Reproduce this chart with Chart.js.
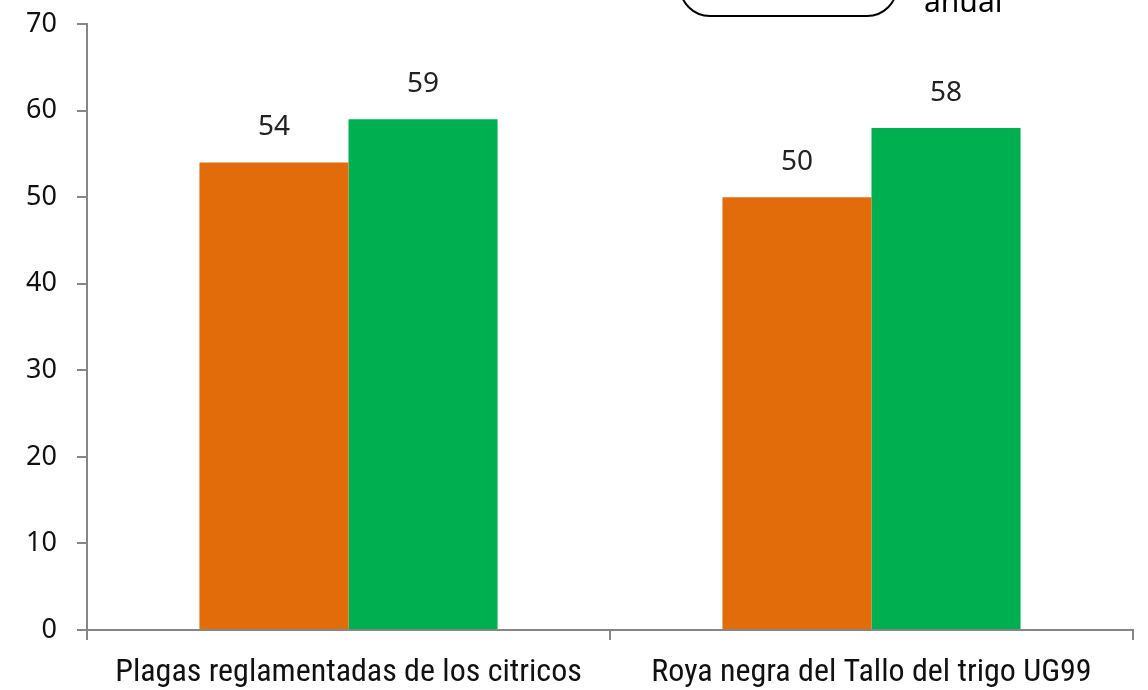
<!DOCTYPE html>
<html><head><meta charset="utf-8">
<script src="https://cdn.jsdelivr.net/npm/chart.js@4"></script>
<style>html,body{margin:0;padding:0;background:#fff}#w{width:1148px;height:690px}</style>
</head><body><div id="w"><canvas id="c" width="1148" height="690"></canvas></div>
<script>
const categories = ["Plagas reglamentadas de los citricos", "Roya negra del Tallo del trigo UG99"];
const seriesA = [54, 50];
const seriesB = [59, 58];
const yTicks = [0, 10, 20, 30, 40, 50, 60, 70];
const noteText = "anual";

const labelsPlugin = {
  id: 'vals',
  afterDatasetsDraw(chart) {
    const ctx = chart.ctx;
    ctx.save();
    ctx.font = '28px "Noto Sans", "Open Sans", sans-serif';
    ctx.fillStyle = '#222';
    ctx.textAlign = 'center';
    ctx.textBaseline = 'middle';
    chart.data.datasets.forEach((ds, i) => {
      chart.getDatasetMeta(i).data.forEach((bar, j) => {
        ctx.fillText(String(ds.data[j]), bar.x, bar.y - 35);
      });
    });
    ctx.restore();
  },
  afterDraw(chart) {
    const ctx = chart.ctx;
    ctx.save();
    ctx.strokeStyle = '#000';
    ctx.lineWidth = 2;
    const x0 = 680, x1 = 897, yb = 16, r = 30;
    ctx.beginPath();
    ctx.moveTo(x0, yb - 40);
    ctx.lineTo(x0, yb - r);
    ctx.arcTo(x0, yb, x0 + r, yb, r);
    ctx.lineTo(x1 - r, yb);
    ctx.arcTo(x1, yb, x1, yb - r, r);
    ctx.lineTo(x1, yb - 40);
    ctx.stroke();
    ctx.fillStyle = '#000';
    ctx.font = '30px "Noto Sans", "Open Sans", sans-serif';
    ctx.textAlign = 'left';
    ctx.textBaseline = 'alphabetic';
    ctx.fillText(noteText, 924, 12);
    ctx.restore();
  }
};

new Chart(document.getElementById('c'), {
  type: 'bar',
  data: {
    labels: categories,
    datasets: [
      { data: seriesA, backgroundColor: '#E36C0A', categoryPercentage: 0.57, barPercentage: 1.0 },
      { data: seriesB, backgroundColor: '#00B050', categoryPercentage: 0.57, barPercentage: 1.0 }
    ]
  },
  options: {
    responsive: false,
    animation: false,
    layout: { padding: { top: 24, right: 15, bottom: 0, left: 0 } },
    plugins: { legend: { display: false }, tooltip: { enabled: false } },
    scales: {
      x: {
        offset: true,
        afterFit(axis) { axis.height = 60; axis.paddingLeft = 0; axis.paddingRight = 0; },
        grid: { offset: true, drawOnChartArea: false, drawTicks: true, tickLength: 10, color: '#868686', lineWidth: 2 },
        border: { color: '#868686', width: 2 },
        ticks: { color: '#111', font: { family: '"Liberation Sans Narrow", "Arial Narrow", "Roboto Condensed", "Liberation Sans", sans-serif', size: 32 }, padding: 14, maxRotation: 0, autoSkip: false }
      },
      y: {
        min: 0, max: 70,
        afterBuildTicks(axis) { axis.ticks = yTicks.map(v => ({ value: v })); },
        afterFit(axis) { axis.width = 87; axis.paddingTop = 0; axis.paddingBottom = 0; },
        grid: { drawOnChartArea: false, drawTicks: true, tickLength: 10, color: '#868686', lineWidth: 2 },
        border: { color: '#868686', width: 2 },
        ticks: { color: '#111', font: { family: '"Noto Sans", "Open Sans", sans-serif', size: 27 }, padding: 20 }
      }
    }
  },
  plugins: [labelsPlugin]
});
</script>
</body></html>
